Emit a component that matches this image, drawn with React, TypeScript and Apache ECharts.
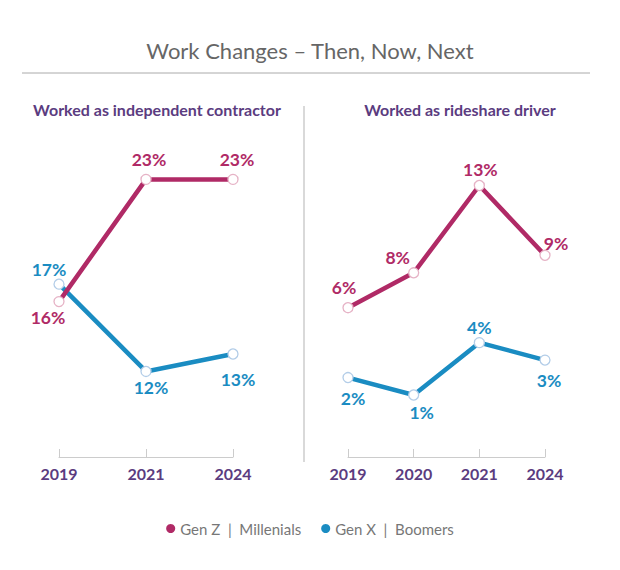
import React, { useEffect, useRef } from "react";
import * as echarts from "echarts";

const contractorYears = ["2019", "2021", "2024"];
const rideshareYears = ["2019", "2020", "2021", "2024"];
const contractorGenZ = [16, 23, 23];
const contractorGenX = [17, 12, 13];
const rideshareGenZ = [6, 8, 13, 9];
const rideshareGenX = [2, 1, 4, 3];

const GENZ_NAME = "Gen Z  |  Millenials";
const GENX_NAME = "Gen X  |  Boomers";

// label placement (style only): offset of label centre from the point
const contractorGenZOffsets = [[-11, 16], [3, -20], [4, -20]];
const contractorGenXOffsets = [[-10, -15], [5, 16], [5, 26]];
const rideshareGenZOffsets = [[-4, -20], [-16, -15], [1, -16], [11, -12]];
const rideshareGenXOffsets = [[5, 21], [8, 17], [0, -15], [4, 20]];

const GZ = "#b02a66";
const GX = "#1a8cc2";
const GZ_LIGHT = "#e6b3c6";
const GX_LIGHT = "#b3cde8";
const PURPLE = "#5b3c80";
const FONT = "Lato";

function makeSeries(name: string, values: number[], offsets: number[][], color: string, light: string, xi: number, z: number) {
  return {
    name,
    type: "line",
    xAxisIndex: xi,
    yAxisIndex: xi,
    z,
    color,
    symbol: "circle",
    symbolSize: 10,
    lineStyle: { width: 4.5, color },
    itemStyle: { color: "#ffffff", borderColor: light, borderWidth: 1.3 },
    label: { show: false },
    data: values.map((v, i) => ({
      value: v,
      label: {
        show: true,
        position: "inside",
        offset: offsets[i],
        formatter: "{c}%",
        color,
        fontFamily: FONT,
        fontWeight: "bold",
        fontSize: 17.5,
      },
    })),
  };
}

function xAxis(data: string[], gi: number) {
  return {
    type: "category",
    gridIndex: gi,
    data,
    boundaryGap: false,
    axisLine: { show: true, onZero: false, lineStyle: { color: "#cccccc", width: 1 } },
    axisTick: { show: true, inside: true, length: 8, lineStyle: { color: "#cccccc" } },
    axisLabel: { color: PURPLE, fontFamily: FONT, fontWeight: "bold", fontSize: 16, margin: 8 },
    splitLine: { show: false },
  };
}

export default function App() {
  const ref = useRef<HTMLDivElement>(null);
  useEffect(() => {
    if (!ref.current) return;
    const chart = echarts.init(ref.current, undefined, { renderer: "svg" });
    chart.setOption({
      animation: false,
      backgroundColor: "#ffffff",
      title: {
        text: "Work Changes – Then, Now, Next",
        left: "center",
        top: 34,
        textStyle: { color: "#666666", fontFamily: FONT, fontWeight: "normal", fontSize: 22 },
      },
      graphic: [
        { type: "line", shape: { x1: 22, y1: 73, x2: 590, y2: 73 }, style: { stroke: "#aaaaaa", lineWidth: 1 } },
        { type: "line", shape: { x1: 304, y1: 106, x2: 304, y2: 462 }, style: { stroke: "#cccccc", lineWidth: 1.5 } },
        {
          type: "text",
          x: 157,
          y: 109,
          style: {
            text: "Worked as independent contractor",
            fill: PURPLE,
            font: `bold 16px ${FONT}`,
            textAlign: "center",
            textVerticalAlign: "middle",
            align: "center",
            verticalAlign: "middle",
          },
        },
        {
          type: "text",
          x: 460,
          y: 109,
          style: {
            text: "Worked as rideshare driver",
            fill: PURPLE,
            font: `bold 16px ${FONT}`,
            textAlign: "center",
            textVerticalAlign: "middle",
            align: "center",
            verticalAlign: "middle",
          },
        },
      ],
      legend: {
        top: 516,
        left: "center",
        itemWidth: 9,
        itemHeight: 9,
        itemGap: 20,
        textStyle: { color: "#777777", fontFamily: FONT, fontSize: 15 },
        data: [
          { name: GENZ_NAME, icon: "circle", itemStyle: { color: GZ, borderWidth: 0 } },
          { name: GENX_NAME, icon: "circle", itemStyle: { color: GX, borderWidth: 0 } },
        ],
      },
      grid: [
        { left: 59, width: 174, top: 127, height: 330 },
        { left: 348, width: 197, top: 127, height: 330 },
      ],
      xAxis: [xAxis(contractorYears, 0), xAxis(rideshareYears, 1)],
      yAxis: [
        { type: "value", gridIndex: 0, min: 7.1, max: 26.0, show: false, splitLine: { show: false } },
        { type: "value", gridIndex: 1, min: -2.55, max: 16.35, show: false, splitLine: { show: false } },
      ],
      series: [
        makeSeries(GENX_NAME, contractorGenX, contractorGenXOffsets, GX, GX_LIGHT, 0, 2),
        makeSeries(GENZ_NAME, contractorGenZ, contractorGenZOffsets, GZ, GZ_LIGHT, 0, 3),
        makeSeries(GENX_NAME, rideshareGenX, rideshareGenXOffsets, GX, GX_LIGHT, 1, 2),
        makeSeries(GENZ_NAME, rideshareGenZ, rideshareGenZOffsets, GZ, GZ_LIGHT, 1, 3),
      ],
    });
    return () => chart.dispose();
  }, []);
  return (
    <div
      ref={ref}
      style={{ position: "fixed", left: 0, top: 0, width: 620, height: 570, background: "#fff" }}
    />
  );
}
